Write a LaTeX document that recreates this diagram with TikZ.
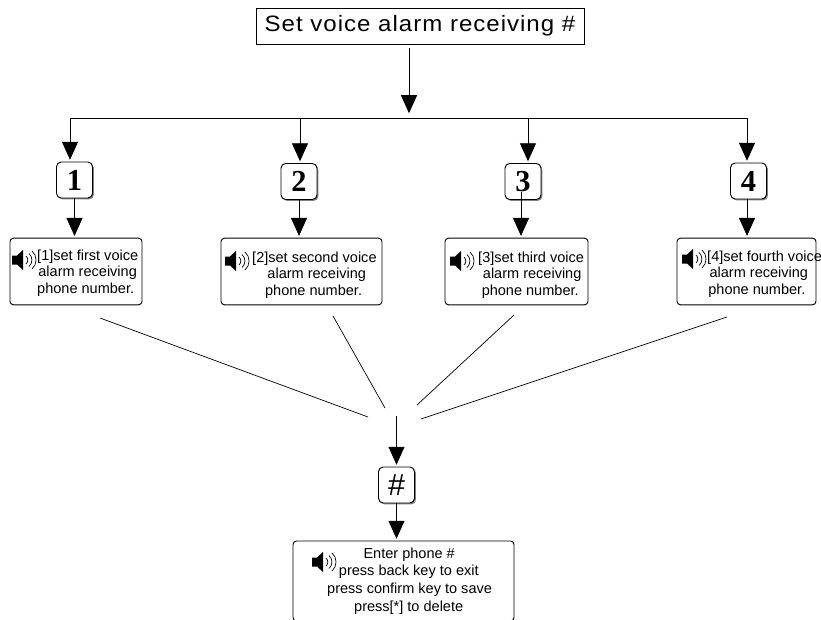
\documentclass[tikz,border=0pt]{standalone}
\usepackage{fontspec}
\setmainfont{Liberation Sans}
\newfontfamily\keyfont{Liberation Serif}
\newfontfamily\titlefont[FakeStretch=1.08,LetterSpace=4.5]{Liberation Sans}
\usetikzlibrary{arrows.meta,shadows}

\tikzset{
    bigarrow/.style={-{Triangle[width=0.48cm,length=0.54cm]}, thick, shorten >=1.5pt},
    titlebox/.style={draw, thick, minimum width=9.84cm, minimum height=1.08cm, inner sep=0pt, font=\titlefont\fontsize{19}{22}\selectfont},
    keybox/.style={draw, thick, fill=white, rounded corners=4pt, minimum width=1.08cm, minimum height=1.08cm, inner sep=0pt,
        drop shadow={shadow xshift=1.2pt, shadow yshift=-1.2pt, fill=black!50, opacity=1}},
    digit/.style={font=\keyfont\bfseries\fontsize{26}{26}\selectfont},
    msgbox/.style={draw, thick, rounded corners=3pt, inner sep=0pt, minimum height=2cm},
    msgtext/.style={inner sep=0pt, anchor=west, align=left, font=\fontsize{12.4}{14.1}\selectfont},
    speaker/.pic={
        \fill (0,-4.5) -- (5,-4.5) -- (11,-10) -- (11,10) -- (5,4.5) -- (0,4.5) -- cycle;
        \draw[semithick] (14,-4) to[out=-40,in=40] (14,4);
        \draw[semithick] (17,-6.5) to[out=-40,in=40] (17,6.5);
        \draw[semithick] (20,-9) to[out=-40,in=40] (20,9);
    }
}

\begin{document}
\begin{tikzpicture}[x=0.03cm,y=-0.03cm]

    \useasboundingbox (0,0) rectangle (821,619);
    \clip (0,0) rectangle (821,619);

    % Title
    \node[titlebox] (title) at (420,26) {Set voice alarm receiving \#};

    % Branch bar
    \coordinate (titleout) at (409,48);
    \coordinate (barmid) at (409,115);
    \coordinate (bar1) at (70,118);
    \coordinate (bar2) at (300,118);
    \coordinate (bar3) at (528,118);
    \coordinate (bar4) at (747,118);
    \draw[bigarrow] (titleout) -- (barmid);
    \draw[thick] (bar1) -- (bar4);

    % Number keys
    \node[keybox, digit] (key1) at (74.5,180) {1};
    \node[keybox, digit] (key2) at (299,181.5) {2};
    \node[keybox, digit] (key3) at (523,181.5) {3};
    \node[keybox, digit] (key4) at (748.5,181) {4};

    % Message boxes
    \node[msgbox, minimum width=3.96cm] (msg1) at (76,271.5) {};
    \node[msgbox, minimum width=4.83cm] (msg2) at (301.5,271.5) {};
    \node[msgbox, minimum width=4.29cm] (msg3) at (516.5,271.5) {};
    \node[msgbox, minimum width=4.17cm] (msg4) at (746.5,271.5) {};

    % Message texts
    \node[msgtext] (text1) at (37,273) {[1]set first voice\\\hspace*{1pt}alarm receiving\\phone number.};
    \node[msgtext] (text2) at (252,275) {[2]set second voice\\\hspace*{13pt}alarm receiving\\\hspace*{11pt}phone number.};
    \node[msgtext] (text3) at (478,275) {[3]set third voice\\\hspace*{4pt}alarm receiving\\\hspace*{3pt}phone number.};
    \node[msgtext] (text4) at (707,274) {[4]set fourth voice\\\hspace*{2pt}alarm receiving\\\hspace*{1pt}phone number.};

    % Speakers
    \pic at (12,260) {speaker};
    \pic at (225,261) {speaker};
    \pic at (450,261) {speaker};
    \pic at (682,259) {speaker};
    \pic at (312,562) {speaker};

    % Arrows down
    \coordinate (key3out) at (521,192);
    \draw[bigarrow] (bar1) -- (bar1 |- key1.north);
    \draw[bigarrow] (bar2) -- (bar2 |- key2.north);
    \draw[bigarrow] (bar3) -- (bar3 |- key3.north);
    \draw[bigarrow] (bar4) -- (bar4 |- key4.north);
    \draw[bigarrow] (key1.south) -- (key1.south |- msg1.north);
    \draw[bigarrow] (key2.south) -- (key2.south |- msg2.north);
    \draw[bigarrow] (key3out) -- (key3out |- msg3.north);
    \draw[bigarrow] (bar4 |- key4.south) -- (bar4 |- msg4.north);

    % Converging lines
    \coordinate (in1) at (100,318);
    \coordinate (in2) at (333,316);
    \coordinate (in3) at (514,315);
    \coordinate (in4) at (727,317);
    \coordinate (out1) at (368,417);
    \coordinate (out2) at (385,408);
    \coordinate (out3) at (417,405);
    \coordinate (out4) at (421,419);
    \draw[semithick] (in1) -- (out1);
    \draw[semithick] (in2) -- (out2);
    \draw[semithick] (in3) -- (out3);
    \draw[semithick] (in4) -- (out4);

    % Hash key and last box
    \coordinate (hashin) at (396.5,416);
    \node[keybox, font=\fontsize{26}{26}\selectfont] (hashkey) at (396.5,485) {\#};
    \node[msgbox, minimum width=6.63cm, minimum height=2.4cm] (enter) at (403.5,581) {};
    \node[msgtext, font=\fontsize{12.4}{15}\selectfont] (entertext) at (327,581) {\hspace*{31pt}Enter phone \#\\\hspace*{10pt}press back key to exit\\press confirm key to save\\\hspace*{23pt}press[*] to delete};
    \draw[bigarrow] (hashin) -- (hashkey.north);
    \draw[bigarrow] (hashkey.south) -- (hashkey.south |- enter.north);

\end{tikzpicture}
\end{document}
